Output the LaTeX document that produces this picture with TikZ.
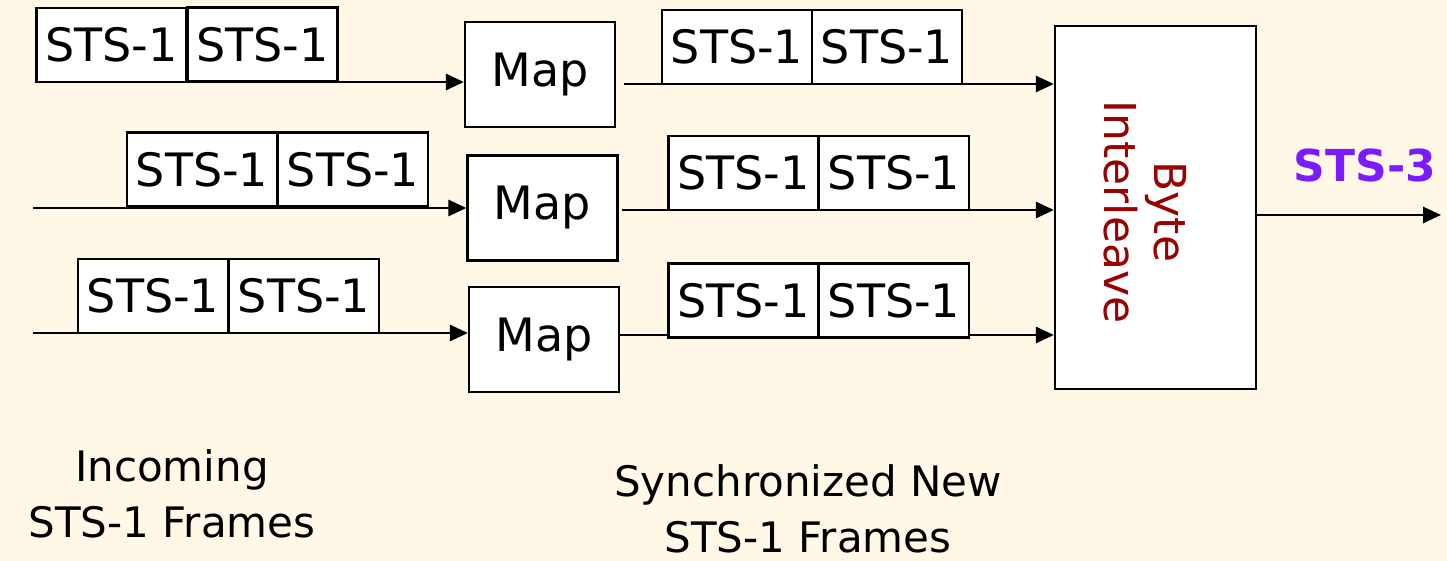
\documentclass[tikz,border=0pt]{standalone}
\usepackage{fontspec}
\setmainfont{DejaVu Sans}
\usetikzlibrary{arrows.meta}
\definecolor{bgc}{HTML}{FFF8E6}
\definecolor{bytered}{HTML}{990000}
\definecolor{stspurple}{HTML}{7A1CFF}
\begin{document}
\begin{tikzpicture}[x=0.5pt,y=-0.5pt,
  fr/.style={draw, line width=1.1pt, fill=white, minimum width=75pt, minimum height=37pt, inner sep=0pt, font=\fontsize{23}{27}\selectfont},
  mapbox/.style={draw, line width=1.1pt, fill=white, minimum width=75pt, minimum height=52.5pt, inner sep=0pt, font=\fontsize{23}{28}\selectfont},
  conn/.style={line width=1.4pt, -{Triangle[length=9pt,width=8pt]}},
  lab/.style={align=center, font=\fontsize{21}{28}\selectfont}]
\fill[bgc] (0,0) rectangle (1447,561);
\useasboundingbox (0,0) rectangle (1447,561);
% Map boxes
\node[mapbox] (map1) at (540,74.5) {Map};
\node[mapbox] (map2) at (542.5,208) {Map};
\node[mapbox] (map3) at (544,339.5) {Map};
% Byte interleave
\node[draw, line width=1.1pt, fill=white, minimum width=100.5pt, minimum height=181.5pt, inner sep=0pt] (bi) at (1155.5,207.5) {};
\node[rotate=-90, align=center, text=bytered, font=\fontsize{22}{25}\selectfont] (bitxt) at (1145,212) {Byte\\Interleave};
% free ends
\coordinate (s1) at (35,82);
\coordinate (s2) at (33,208);
\coordinate (s3) at (33,333);
\coordinate (o1) at (624,84);
\coordinate (o2) at (622,210);
\coordinate (o3) at (620,335);
\coordinate (out) at (1441,215);
% connectors
\draw[conn] (s1) -- (s1 -| map1.west);
\draw[conn] (s2) -- (s2 -| map2.west);
\draw[conn] (s3) -- (s3 -| map3.west);
\draw[conn] (o1) -- (o1 -| bi.west);
\draw[conn] (o2) -- (o2 -| bi.west);
\draw[conn] (o3) -- (o3 -| bi.west);
\draw[conn] (out -| bi.east) -- (out);
% frames
\node[fr] (a1) at (111.5,45) {STS-1};
\node[fr] (a2) at (262.5,44.5) {STS-1};
\node[fr] (b1) at (202,169.5) {STS-1};
\node[fr] (b2) at (353,169.5) {STS-1};
\node[fr] (c1) at (153,296) {STS-1};
\node[fr] (c2) at (304,296) {STS-1};
\node[fr] (d1) at (737,47) {STS-1};
\node[fr] (d2) at (887,47) {STS-1};
\node[fr] (e1) at (743.5,173) {STS-1};
\node[fr] (e2) at (894,173) {STS-1};
\node[fr] (f1) at (743.5,300.5) {STS-1};
\node[fr] (f2) at (894,300.5) {STS-1};
% labels
\node[text=stspurple, font=\bfseries\fontsize{22}{26}\selectfont] (sts3) at (1365,165) {STS-3};
\node[lab] (inc) at (172,494) {Incoming\\STS-1 Frames};
\node[lab] (syn) at (808,509) {Synchronized New\\STS-1 Frames};
\end{tikzpicture}
\end{document}
